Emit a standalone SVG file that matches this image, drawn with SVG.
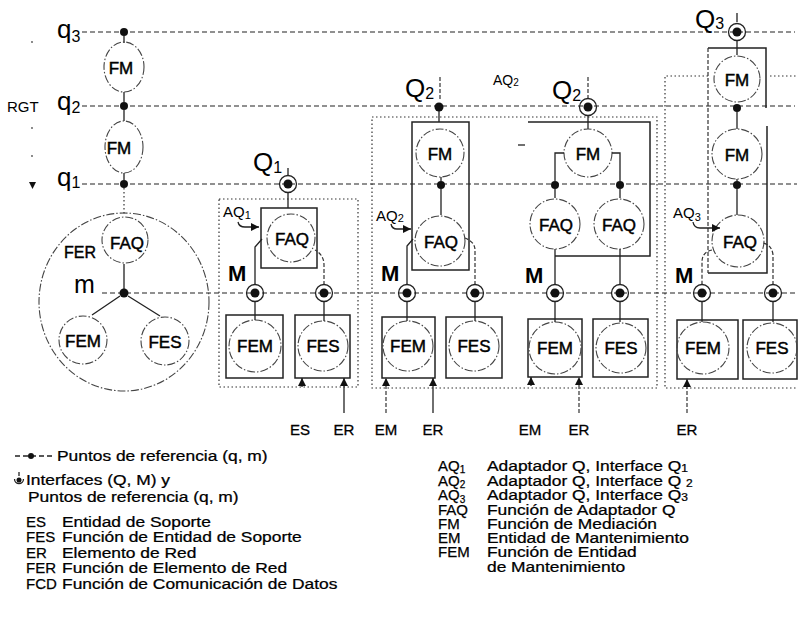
<svg xmlns="http://www.w3.org/2000/svg" xmlns:xlink="http://www.w3.org/1999/xlink" width="799" height="637" viewBox="0 0 799 637">
<style>
.ref{stroke:#222;stroke-width:1.2;stroke-dasharray:5 3;fill:none}
.dotbox{stroke:#333;stroke-width:1.2;stroke-dasharray:1.5 2.5;fill:none}
.box{stroke:#222;stroke-width:1.5;fill:none}
.fn{stroke:#444;stroke-width:1.1;stroke-dasharray:8 2 1.5 2;fill:none}
.ln{stroke:#222;stroke-width:1.3;fill:none}
.dl{stroke:#333;stroke-width:1.2;stroke-dasharray:4 2;fill:none}
.dot{fill:#111}
.ring{fill:none;stroke:#222;stroke-width:1.3}
.t{font-family:"Liberation Sans",Arial,sans-serif;fill:#000}
.nt{font-size:17px;text-anchor:middle;stroke:#000;stroke-width:0.45}
.big{font-size:26px}
.mm{font-size:22px;font-weight:bold}
.sm{font-size:15px}
.lg{font-size:14.5px;stroke:#000;stroke-width:0.25}
.ab{font-size:15px;stroke:#000;stroke-width:0.25}
.lb{font-size:15px;text-anchor:middle;stroke:#000;stroke-width:0.3}
</style>
<defs>
<marker id="ah" viewBox="0 0 10 10" refX="10" refY="5" markerWidth="8" markerHeight="8" markerUnits="userSpaceOnUse" orient="auto"><path d="M0,0 L10,5 L0,10 z" fill="#111"/></marker>
<g id="iface"><circle r="8.5" class="ring"/><circle r="4.5" class="dot"/></g>
</defs>

<!-- reference lines -->
<g id="reflines">
<path class="ref" d="M82,32 H795"/>
<path class="ref" d="M82,106 H795"/>
<path class="ref" d="M82,184 H797"/>
<path class="ref" d="M102,293 H797"/>
</g>

<!-- left labels -->
<g id="axis-labels" class="t">
<text x="57" y="38" class="big">q<tspan font-size="16" dy="4">3</tspan></text>
<text x="57" y="110" class="big">q<tspan font-size="16" dy="3">2</tspan></text>
<text x="57" y="186" class="big">q<tspan font-size="16" dy="2">1</tspan></text>
<text x="7" y="112" font-size="15">RGT</text>
<polygon points="29,182 36,182 32.5,189" fill="#111"/>
<circle cx="32" cy="42" r="0.9" fill="#555"/>
<circle cx="32" cy="128" r="0.9" fill="#555"/>
<circle cx="32" cy="156" r="0.9" fill="#555"/>
<text x="74" y="293" font-size="25">m</text>
</g>

<!-- left column -->
<g id="rgt-column">
<circle cx="124" cy="32" r="4" class="dot"/>
<circle cx="124" cy="106" r="4" class="dot"/>
<circle cx="124" cy="184" r="4" class="dot"/>
<path class="ln" d="M124,36 V43 M124,92 V102 M124,110 V121 M124,173 V180"/>
<ellipse cx="124" cy="67" rx="20" ry="25" class="fn"/>
<ellipse cx="124" cy="147" rx="19" ry="26" class="fn"/>
<text x="121" y="74" class="t nt">FM</text>
<text x="119" y="154" class="t nt">FM</text>
</g>

<g id="fer">
<ellipse cx="124" cy="302" rx="85" ry="89" class="fn"/>
<path class="dotbox" d="M124,188 V215"/>
<circle cx="125" cy="240" r="23" class="fn"/>
<text x="127" y="249" class="t nt">FAQ</text>
<text x="64" y="258" class="t" font-size="16" stroke="#000" stroke-width="0.4">FER</text>
<path class="ln" d="M124,264 V289 M120,296 L92,315 M128,296 L160,316"/>
<circle cx="124" cy="293" r="4.5" class="dot"/>
<circle cx="83" cy="340" r="24" class="fn"/>
<circle cx="165" cy="341" r="24" class="fn"/>
<text x="83" y="347" class="t nt">FEM</text>
<text x="165" y="348" class="t nt">FES</text>
</g>

<!-- group Q1 -->
<g id="grp-q1">
<rect x="219" y="199" width="139" height="188" class="dotbox"/>
<text x="253" y="171" class="t big">Q<tspan font-size="16" dy="2">1</tspan></text>
<path class="ln" d="M288,168 V175 M288,192 V208"/>
<use xlink:href="#iface" x="288" y="184"/>
<rect x="261" y="208" width="56" height="60" class="box"/>
<circle cx="291" cy="238" r="24" class="fn"/>
<text x="292" y="245" class="t nt">FAQ</text>
<text x="223" y="217" class="t sm">AQ<tspan font-size="11" dy="2">1</tspan></text>
<path class="ln" d="M238,222 Q239,227 245,227 L259,227" marker-end="url(#ah)"/>
<text x="228" y="281" class="t mm">M</text>
<path class="ln" d="M255,285 V247 L262,239"/>
<path class="dl" d="M324,285 V265 Q324,255 315,250"/>
<use xlink:href="#iface" x="255" y="293"/>
<use xlink:href="#iface" x="324" y="293"/>
<rect x="226" y="315" width="57" height="63" class="box"/>
<rect x="295" y="315" width="55" height="63" class="box"/>
<circle cx="255" cy="346" r="26" class="fn"/>
<circle cx="323" cy="346" r="25" class="fn"/>
<text x="255" y="352" class="t nt">FEM</text>
<text x="323" y="352" class="t nt">FES</text>
<path class="ln" d="M255,301 V320 M324,301 V321"/>
</g>

<!-- group Q2 (AQ2) -->
<g id="grp-q2a">
<rect x="372" y="117" width="285" height="271" class="dotbox"/>
<text x="405" y="97" class="t big">Q<tspan font-size="16" dy="2">2</tspan></text>
<path class="dl" d="M440,77 V100"/>
<circle cx="439" cy="107" r="4.5" class="dot"/>
<path class="ln" d="M439,111 V122"/>
<rect x="412" y="122" width="57" height="148" class="box"/>
<circle cx="440" cy="153" r="24" class="fn"/>
<text x="440" y="160" class="t nt">FM</text>
<path class="ln" d="M441,177 V181 M441,189 V215"/>
<circle cx="441" cy="185" r="4" class="dot"/>
<circle cx="440" cy="241" r="25" class="fn"/>
<text x="441" y="248" class="t nt">FAQ</text>
<text x="376" y="221" class="t sm">AQ<tspan font-size="11" dy="1">2</tspan></text>
<path class="ln" d="M391,224 Q392,229 397,229 L411,229" marker-end="url(#ah)"/>
<text x="381" y="281" class="t mm">M</text>
<path class="ln" d="M407,285 V246 L413,239"/>
<path class="dl" d="M475,285 V250 Q475,242 465,238"/>
<use xlink:href="#iface" x="407" y="293"/>
<use xlink:href="#iface" x="475" y="293"/>
<rect x="382" y="317" width="53" height="61" class="box"/>
<rect x="446" y="317" width="56" height="61" class="box"/>
<circle cx="408" cy="346" r="25" class="fn"/>
<circle cx="474" cy="346" r="25" class="fn"/>
<text x="408" y="352" class="t nt">FEM</text>
<text x="474" y="352" class="t nt">FES</text>
<path class="ln" d="M407,301 V321 M475,301 V321"/>
</g>

<!-- group Q2 (two FAQ) -->
<g id="grp-q2b">
<text x="493" y="85" class="t" font-size="14">AQ<tspan font-size="10" dy="1">2</tspan></text>
<text x="552" y="99" class="t big">Q<tspan font-size="16" dy="2">2</tspan></text>
<path class="dl" d="M588,77 V98"/>
<use xlink:href="#iface" x="588" y="107"/>
<path class="ln" d="M588,115 V129"/>
<path class="box" d="M528,122 H650 V256 H555"/>
<path class="ln" d="M518,145 H525"/>
<circle cx="588" cy="153" r="24" class="fn"/>
<text x="588" y="160" class="t nt">FM</text>
<path class="ln" d="M564,153 H555 V181 M612,153 H620 V181 M555,189 V198 M620,189 V198"/>
<circle cx="555" cy="185" r="4" class="dot"/>
<circle cx="620" cy="185" r="4" class="dot"/>
<circle cx="555" cy="224" r="25" class="fn"/>
<circle cx="619" cy="224" r="25" class="fn"/>
<text x="556" y="231" class="t nt">FAQ</text>
<text x="619" y="231" class="t nt">FAQ</text>
<path class="ln" d="M555,249 V285 M620,249 V285"/>
<text x="525" y="283" class="t mm">M</text>
<use xlink:href="#iface" x="555" y="293"/>
<use xlink:href="#iface" x="620" y="293"/>
<rect x="528" y="319" width="54" height="58" class="box"/>
<rect x="593" y="319" width="55" height="58" class="box"/>
<circle cx="555" cy="348" r="26" class="fn"/>
<circle cx="621" cy="348" r="25" class="fn"/>
<text x="555" y="354" class="t nt">FEM</text>
<text x="621" y="354" class="t nt">FES</text>
<path class="ln" d="M555,301 V322 M620,301 V322"/>
</g>

<!-- group Q3 -->
<g id="grp-q3">
<path class="dotbox" d="M708,76 H665 V388 H797 M770,76 H797"/>
<text x="695" y="28" class="t big">Q<tspan font-size="16" dy="1">3</tspan></text>
<path class="ln" d="M737,13 V22 M737,40 V55"/>
<use xlink:href="#iface" x="737" y="32"/>
<path class="box" d="M708,48 H766 V108 M767,126 V273 H708"/>
<path class="dl" d="M708,48 V273"/>
<circle cx="737" cy="79" r="23" class="fn"/>
<text x="737" y="86" class="t nt">FM</text>
<circle cx="737" cy="108" r="4" class="dot"/>
<path class="ln" d="M737,112 V129 M737,179 V181 M737,189 V215"/>
<circle cx="737" cy="154" r="25" class="fn"/>
<text x="737" y="161" class="t nt">FM</text>
<circle cx="737" cy="185" r="4" class="dot"/>
<circle cx="738" cy="241" r="26" class="fn"/>
<text x="740" y="248" class="t nt">FAQ</text>
<text x="673" y="218" class="t sm">AQ<tspan font-size="11" dy="3">3</tspan></text>
<path class="ln" d="M693,222 Q694,228 700,228 L720,228" marker-end="url(#ah)"/>
<text x="675" y="283" class="t mm">M</text>
<path class="dl" d="M712,250 Q702,252 702,262 V285 M773,285 V255 Q772,245 763,243"/>
<use xlink:href="#iface" x="702" y="293"/>
<use xlink:href="#iface" x="773" y="293"/>
<rect x="677" y="320" width="61" height="59" class="box"/>
<rect x="743" y="320" width="54" height="59" class="box"/>
<circle cx="703" cy="348" r="26" class="fn"/>
<circle cx="772" cy="348" r="25" class="fn"/>
<text x="703" y="354" class="t nt">FEM</text>
<text x="772" y="354" class="t nt">FES</text>
<path class="ln" d="M702,301 V322 M773,301 V322"/>
</g>

<!-- input arrows -->
<g id="connectors">
<path class="ln" d="M302,387 V378" marker-end="url(#ah)"/>
<path class="ln" d="M344,413 V378" marker-end="url(#ah)"/>
<path class="dl" d="M386,413 V378" marker-end="url(#ah)"/>
<path class="ln" d="M433,413 V378" marker-end="url(#ah)"/>
<path class="ln" d="M531,386 V377" marker-end="url(#ah)"/>
<path class="dl" d="M579,413 V377" marker-end="url(#ah)"/>
<path class="dl" d="M687,413 V379" marker-end="url(#ah)"/>
</g>
<g id="input-labels" class="t lb">
<text x="300" y="435">ES</text>
<text x="344" y="435">ER</text>
<text x="386" y="435">EM</text>
<text x="433" y="435">ER</text>
<text x="530" y="435">EM</text>
<text x="579" y="435">ER</text>
<text x="687" y="435">ER</text>
</g>

<!-- legend -->
<g id="legend-symbols">
<path class="ln" d="M15,456 H53" stroke-dasharray="5 3"/>
<circle cx="31" cy="456" r="3" class="dot"/>
<path class="ln" d="M19,472 V476"/>
<path d="M14.5,479 A4.5,4.5 0 0 0 23.5,479" class="ring" stroke-width="1"/>
<circle cx="19" cy="480" r="2.5" class="dot"/>
</g>
<g id="legend-left-abbr" class="t ab">
<text x="26" y="527">ES</text>
<text x="26" y="542">FES</text>
<text x="26" y="558">ER</text>
<text x="26" y="573">FER</text>
<text x="26" y="589">FCD</text>
</g>
<g id="legend-left" class="t lg" transform="scale(1.2,1)">
<text x="47.5" y="461">Puntos de referencia (q, m)</text>
<text x="21.7" y="485">Interfaces (Q, M) y</text>
<text x="23.3" y="502">Puntos de referencia (q, m)</text>
<text x="51.7" y="527">Entidad de Soporte</text>
<text x="51.7" y="542">Función de Entidad de Soporte</text>
<text x="51.7" y="558">Elemento de Red</text>
<text x="51.7" y="573">Función de Elemento de Red</text>
<text x="51.7" y="589">Función de Comunicación de Datos</text>
</g>
<g id="legend-right-abbr" class="t ab">
<text x="438" y="471">AQ<tspan font-size="10" dy="2">1</tspan></text>
<text x="438" y="486">AQ<tspan font-size="10" dy="2">2</tspan></text>
<text x="438" y="500">AQ<tspan font-size="10" dy="3">3</tspan></text>
<text x="438" y="515">FAQ</text>
<text x="438" y="529">FM</text>
<text x="438" y="543">EM</text>
<text x="438" y="557">FEM</text>
</g>
<g id="legend-right" class="t lg" transform="scale(1.2,1)">
<text x="405.8" y="471">Adaptador Q, Interface Q<tspan font-size="10" dy="1">1</tspan></text>
<text x="405.8" y="486">Adaptador Q, Interface Q <tspan font-size="10" dy="1">2</tspan></text>
<text x="405.8" y="500">Adaptador Q, Interface Q<tspan font-size="10" dy="1">3</tspan></text>
<text x="405.8" y="515">Función de Adaptador Q</text>
<text x="405.8" y="529">Función de Mediación</text>
<text x="405.8" y="543">Entidad de Mantenimiento</text>
<text x="405.8" y="557">Función de Entidad</text>
<text x="405.8" y="572">de Mantenimiento</text>
</g>
</svg>
